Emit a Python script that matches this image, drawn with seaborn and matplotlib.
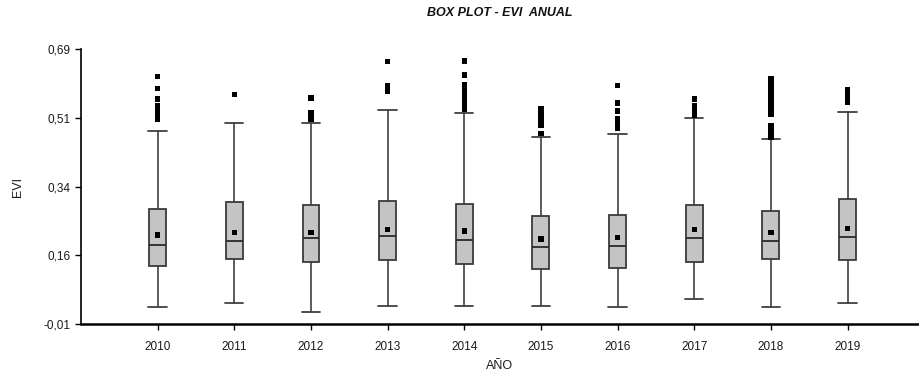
import numpy as np
import pandas as pd
import matplotlib
matplotlib.use("Agg")
import matplotlib.pyplot as plt
import seaborn as sns

# Annual EVI summary statistics per year
years = ["2010", "2011", "2012", "2013", "2014", "2015", "2016", "2017", "2018", "2019"]
whisker_low = [0.033, 0.043, 0.020, 0.036, 0.036, 0.036, 0.033, 0.054, 0.033, 0.043]
q1 = [0.138, 0.155, 0.148, 0.154, 0.144, 0.130, 0.133, 0.148, 0.155, 0.154]
median = [0.191, 0.201, 0.208, 0.215, 0.205, 0.187, 0.188, 0.208, 0.201, 0.211]
q3 = [0.282, 0.301, 0.292, 0.302, 0.295, 0.266, 0.268, 0.292, 0.278, 0.309]
whisker_high = [0.481, 0.501, 0.501, 0.534, 0.528, 0.467, 0.474, 0.514, 0.460, 0.531]
mean = [0.217, 0.223, 0.223, 0.230, 0.227, 0.206, 0.210, 0.230, 0.223, 0.233]
outliers = [
    [0.621, 0.590, 0.563, 0.547, 0.540, 0.533, 0.526, 0.519, 0.512],
    [0.574],
    [0.566, 0.528, 0.520, 0.512],
    [0.658, 0.598, 0.590, 0.582],
    [0.660, 0.624, 0.599, 0.590, 0.579, 0.572, 0.565, 0.558, 0.551, 0.544, 0.537],
    [0.539, 0.526, 0.518, 0.510, 0.503, 0.497, 0.475],
    [0.597, 0.553, 0.532, 0.514, 0.505, 0.496, 0.488],
    [0.563, 0.547, 0.538, 0.530, 0.522],
    [0.615, 0.608, 0.601, 0.594, 0.587, 0.580, 0.573, 0.566, 0.559, 0.552,
     0.545, 0.538, 0.531, 0.524, 0.494, 0.487, 0.480, 0.473, 0.466],
    [0.586, 0.578, 0.570, 0.562, 0.555],
]
y_ticks = [-0.01, 0.165, 0.34, 0.515, 0.69]
y_tick_labels = ["-0,01", "0,16", "0,34", "0,51", "0,69"]

sns.set_style("ticks")
plt.rcParams["font.family"] = ["Liberation Sans", "DejaVu Sans"]

fig = plt.figure(figsize=(9.19, 3.75), dpi=100)
ax = fig.add_axes([0.0881, 0.136, 0.9109, 0.733])

positions = np.arange(len(years))
stats = [
    dict(whislo=whisker_low[i], q1=q1[i], med=median[i], q3=q3[i],
         whishi=whisker_high[i], fliers=[], label=years[i])
    for i in range(len(years))
]
ax.bxp(
    stats, positions=positions, widths=0.22, patch_artist=True,
    showfliers=False, manage_ticks=False,
    boxprops=dict(facecolor="#c4c4c4", edgecolor="#3a3a3a", linewidth=1.3),
    medianprops=dict(color="#2a2a2a", linewidth=1.3),
    whiskerprops=dict(color="#404040", linewidth=1.2),
    capprops=dict(color="#404040", linewidth=1.3),
    capwidths=0.24,
)

# Means and outlying points as black squares
mean_df = pd.DataFrame({"pos": positions, "val": mean})
out_df = pd.DataFrame(
    [(i, v) for i, vals in enumerate(outliers) for v in vals], columns=["pos", "val"]
)
sns.scatterplot(data=out_df, x="pos", y="val", marker="s", s=15, color="black",
                edgecolor="none", ax=ax, zorder=4)
sns.scatterplot(data=mean_df, x="pos", y="val", marker="s", s=15, color="black",
                edgecolor="none", ax=ax, zorder=5)

ax.set_xlim(-1.0, 9.92)
ax.set_ylim(-0.01, 0.69)
ax.set_xticks(positions)
ax.set_xticklabels(years)
ax.set_yticks(y_ticks)
ax.set_yticklabels(y_tick_labels)
ax.tick_params(axis="both", labelsize=8.5, length=4, width=1, color="black",
               labelcolor="#1a1a1a")
ax.tick_params(axis="x", pad=8)

for side in ("top", "right"):
    ax.spines[side].set_visible(False)
ax.spines["left"].set_color("black")
ax.spines["left"].set_linewidth(1.2)
ax.spines["bottom"].set_color("black")
ax.spines["bottom"].set_linewidth(1.8)

ax.set_xlabel("AÑO", fontsize=9, color="#1a1a1a", labelpad=5)
ax.set_ylabel("EVI", fontsize=9, color="#1a1a1a", labelpad=14)
ax.set_title("BOX PLOT - EVI  ANUAL", fontsize=9, fontweight="bold",
             fontstyle="italic", color="#111111", pad=24)

fig.savefig("out.png", dpi=100)
